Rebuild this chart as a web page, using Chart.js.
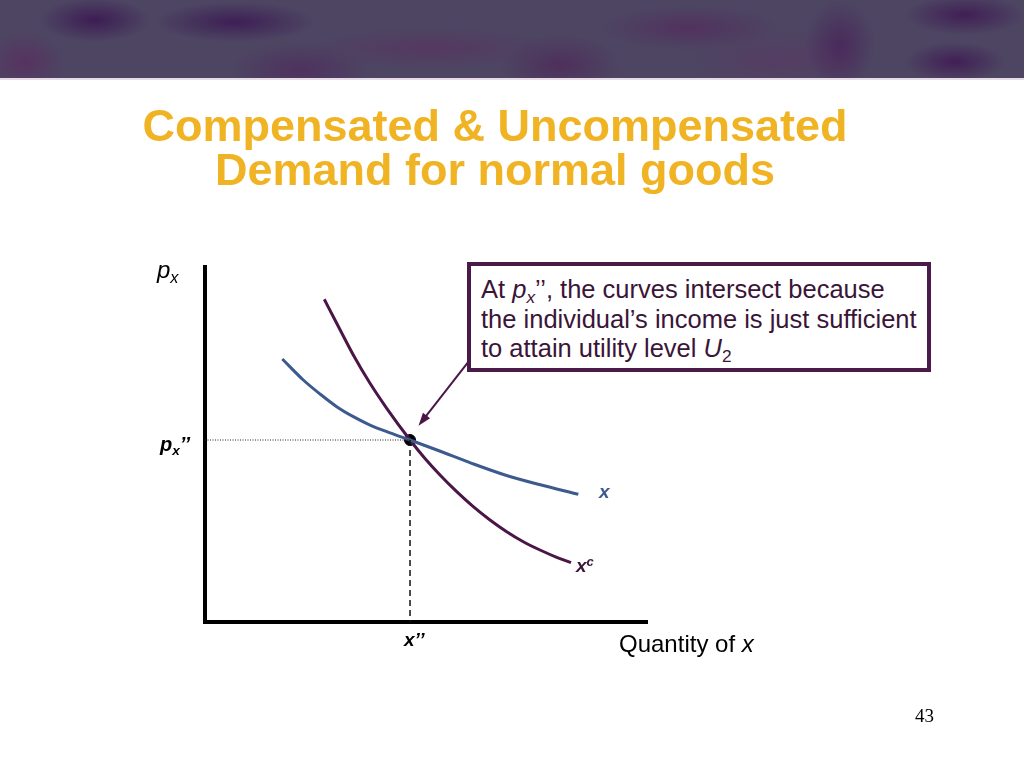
<!DOCTYPE html>
<html>
<head>
<meta charset="utf-8">
<script src="https://cdn.jsdelivr.net/npm/chart.js@4"></script>
<style>
  html, body { margin: 0; padding: 0; background: #fff; }
  #slide { position: relative; width: 1024px; height: 768px; overflow: hidden; font-family: "Liberation Sans", Arial, sans-serif; }
  #banner {
    position: absolute; left: 0; top: 0; width: 1024px; height: 78px;
    background:
      radial-gradient(ellipse 55px 22px at 95px 20px, rgba(55,15,80,0.75), rgba(55,15,80,0) 100%),
      radial-gradient(ellipse 80px 20px at 235px 22px, rgba(55,15,80,0.7), rgba(55,15,80,0) 100%),
      radial-gradient(ellipse 40px 30px at 25px 62px, rgba(95,35,95,0.55), rgba(95,35,95,0) 100%),
      radial-gradient(ellipse 120px 20px at 430px 48px, rgba(95,40,95,0.45), rgba(95,40,95,0) 100%),
      radial-gradient(ellipse 70px 28px at 300px 70px, rgba(80,30,90,0.5), rgba(80,30,90,0) 100%),
      radial-gradient(ellipse 60px 30px at 560px 65px, rgba(80,25,85,0.5), rgba(80,25,85,0) 100%),
      radial-gradient(ellipse 90px 22px at 690px 28px, rgba(85,30,90,0.5), rgba(85,30,90,0) 100%),
      radial-gradient(ellipse 35px 45px at 840px 45px, rgba(70,20,85,0.55), rgba(70,20,85,0) 100%),
      radial-gradient(ellipse 60px 20px at 965px 15px, rgba(60,15,80,0.7), rgba(60,15,80,0) 100%),
      radial-gradient(ellipse 50px 20px at 955px 62px, rgba(60,15,80,0.7), rgba(60,15,80,0) 100%),
      radial-gradient(ellipse 90px 30px at 780px 60px, rgba(100,45,100,0.35), rgba(100,45,100,0) 100%),
      #4d4562;
    border-bottom: 2px solid #e6dbe6;
  }
  #chart { position: absolute; left: 0; top: 0; }
  .lbl { position: absolute; white-space: nowrap; line-height: 1; }
  .title { position: absolute; left: 0; width: 990px; text-align: center; color: #f0b323; font-weight: bold; font-size: 45px; line-height: 45px; }
  sub, sup { font-size: 0.68em; line-height: 0; vertical-align: baseline; position: relative; }
  sub { top: 0.3em; }
  sup { top: -0.5em; }
  #note {
    position: absolute; left: 467px; top: 262px; width: 464px; height: 110px;
    border: 4px solid #4a1a48; background: #fff; box-sizing: border-box;
    padding: 9px 0 0 10px;
    color: #3b1538; font-size: 25.5px; line-height: 29.5px; white-space: nowrap;
  }
</style>
</head>
<body>
<div id="slide">
  <canvas id="chart" width="1024" height="768"></canvas>
  <div id="banner"></div>
  <div class="title" style="top:103px;">Compensated &amp; Uncompensated</div>
  <div class="title" style="top:147px;">Demand for normal goods</div>

  <div id="note">At <i>p<sub>x</sub></i>’’, the curves intersect because<br>the individual’s income is just sufficient<br>to attain utility level <i>U</i><sub>2</sub></div>

  <div class="lbl" style="left:157px; top:258px; font-size:24px; font-style:italic;">p<sub>x</sub></div>
  <div class="lbl" style="left:160px; top:434px; font-size:20px; font-style:italic; font-weight:bold;">p<sub>x</sub>’’</div>
  <div class="lbl" style="left:404px; top:630px; font-size:19px; font-style:italic; font-weight:bold;">x’’</div>
  <div class="lbl" style="left:619px; top:632px; font-size:24px;">Quantity of <i>x</i></div>
  <div class="lbl" style="left:599px; top:482px; font-size:19px; font-style:italic; font-weight:bold; color:#3d5a8f;">x</div>
  <div class="lbl" style="left:576px; top:556px; font-size:19px; font-style:italic; font-weight:bold; color:#3b1538;">x<sup>c</sup></div>
  <div class="lbl" style="left:915px; top:706px; font-size:19px; font-family:'Liberation Serif', 'Times New Roman', serif;">43</div>
</div>

<script>
// Uncompensated demand x (blue)
const uncompQty = [1.745, 2.219, 2.596, 2.973, 3.348, 3.725, 4.102, 4.628, 5.266, 6.020, 6.772, 7.524, 8.427];
const uncompPrice = [7.367, 6.779, 6.387, 6.031, 5.751, 5.518, 5.331, 5.098, 4.804, 4.445, 4.118, 3.857, 3.577];

// Compensated demand x^c (purple)
const compQty = [2.693, 2.973, 3.348, 3.725, 4.102, 4.628, 4.966, 5.305, 5.682, 6.056, 6.433, 6.810, 7.185, 7.562, 7.939, 8.262];
const compPrice = [9.039, 8.367, 7.479, 6.686, 5.986, 5.098, 4.580, 4.118, 3.650, 3.230, 2.857, 2.529, 2.249, 2.017, 1.812, 1.661];

// intersection at px'' / x''
const crossQty = 4.628;
const crossPrice = 5.098;

// arrow from the note box to the intersection
const arrowFrom = [5.94, 7.28];
const arrowTo = [4.82, 5.50];

const blue = '#3d5a8f';
const purple = '#4a1647';

function toPoints(xs, ys) {
    return xs.map((x, i) => ({ x: x, y: ys[i] }));
}

// axes + arrow
const extras = {
    id: 'extras',
    beforeDatasetsDraw(chart) {
        const ctx = chart.ctx;
        const xs = chart.scales.x, ys = chart.scales.y;
        const x0 = xs.getPixelForValue(0), y0 = ys.getPixelForValue(0);
        ctx.save();
        ctx.strokeStyle = '#000';
        ctx.lineWidth = 4;
        ctx.lineCap = 'square';
        ctx.lineJoin = 'miter';
        ctx.beginPath();
        ctx.moveTo(x0, ys.getPixelForValue(10) + 2);
        ctx.lineTo(x0, y0);
        ctx.lineTo(xs.getPixelForValue(10) - 2, y0);
        ctx.stroke();
        ctx.restore();
    },
    afterDatasetsDraw(chart) {
        const ctx = chart.ctx;
        const xs = chart.scales.x, ys = chart.scales.y;
        const ax = xs.getPixelForValue(arrowFrom[0]), ay = ys.getPixelForValue(arrowFrom[1]);
        const bx = xs.getPixelForValue(arrowTo[0]), by = ys.getPixelForValue(arrowTo[1]);
        const ang = Math.atan2(by - ay, bx - ax);
        ctx.save();
        ctx.strokeStyle = purple;
        ctx.fillStyle = purple;
        ctx.lineWidth = 2;
        ctx.beginPath();
        ctx.moveTo(ax, ay);
        ctx.lineTo(bx - 8 * Math.cos(ang), by - 8 * Math.sin(ang));
        ctx.stroke();
        ctx.beginPath();
        ctx.moveTo(bx, by);
        ctx.lineTo(bx - 13 * Math.cos(ang) + 4.5 * Math.sin(ang), by - 13 * Math.sin(ang) - 4.5 * Math.cos(ang));
        ctx.lineTo(bx - 13 * Math.cos(ang) - 4.5 * Math.sin(ang), by - 13 * Math.sin(ang) + 4.5 * Math.cos(ang));
        ctx.closePath();
        ctx.fill();
        ctx.restore();
    }
};

new Chart(document.getElementById('chart'), {
    type: 'line',
    data: {
        datasets: [
            {
                data: [{ x: 0, y: crossPrice }, { x: crossQty, y: crossPrice }],
                borderColor: '#222', borderWidth: 1, borderDash: [1, 1.5],
                pointRadius: 0, tension: 0
            },
            {
                data: [{ x: crossQty, y: crossPrice }, { x: crossQty, y: 0 }],
                borderColor: '#111', borderWidth: 1.5, borderDash: [6, 4],
                pointRadius: 0, tension: 0
            },
            {
                data: toPoints(uncompQty, uncompPrice),
                borderColor: blue, borderWidth: 3,
                pointRadius: 0, cubicInterpolationMode: 'monotone'
            },
            {
                data: toPoints(compQty, compPrice),
                borderColor: purple, borderWidth: 3,
                pointRadius: 0, cubicInterpolationMode: 'monotone'
            },
            {
                data: [{ x: crossQty, y: crossPrice }],
                showLine: false,
                pointRadius: 5.5, pointBackgroundColor: '#000', pointBorderColor: '#000'
            }
        ]
    },
    options: {
        responsive: false,
        animation: false,
        layout: { padding: { left: 205, right: 376, top: 265, bottom: 146 } },
        plugins: { legend: { display: false }, tooltip: { enabled: false } },
        scales: {
            x: { type: 'linear', min: 0, max: 10, display: false },
            y: { type: 'linear', min: 0, max: 10, display: false }
        }
    },
    plugins: [extras]
});
</script>
</body>
</html>
